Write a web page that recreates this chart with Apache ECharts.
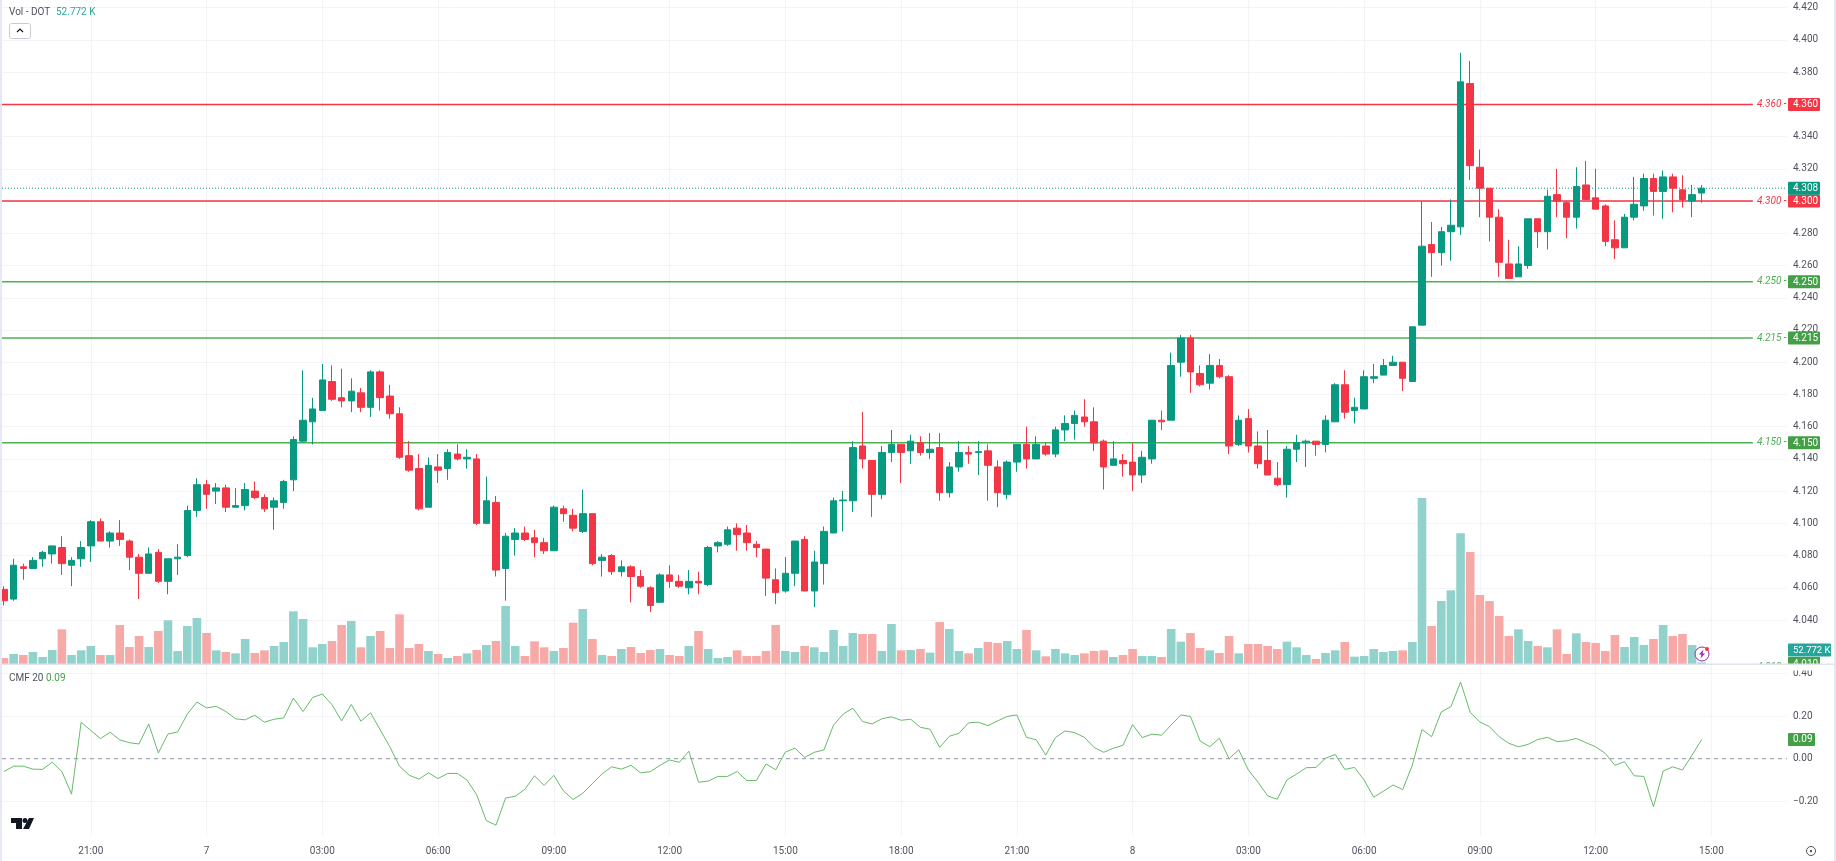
<!DOCTYPE html>
<html>
<head>
<meta charset="utf-8">
<title>DOT 15m</title>
<script src="https://cdn.jsdelivr.net/npm/echarts@6/dist/echarts.min.js"></script>
<style>
  html, body { margin: 0; padding: 0; background: #fff; }
  #chart { width: 1836px; height: 861px; }
</style>
</head>
<body>
<div id="chart"></div>
<script>
// 15 minute bars, first bar is 18:45 on the 6th
const opens = [
  4.059,4.053,4.073,4.072,4.078,4.081,4.085,4.074,4.078,4.086,
  4.101,4.089,4.094,4.089,4.079,4.069,4.082,4.064,4.078,4.080,
  4.108,4.124,4.120,4.122,4.110,4.111,4.120,4.116,4.110,4.113,
  4.127,4.151,4.163,4.170,4.188,4.178,4.176,4.181,4.172,4.194,
  4.179,4.168,4.142,4.134,4.110,4.135,4.134,4.143,4.140,4.140,
  4.100,4.113,4.072,4.090,4.094,4.091,4.088,4.083,4.109,4.105,
  4.095,4.106,4.077,4.080,4.070,4.073,4.067,4.060,4.051,4.068,
  4.064,4.060,4.064,4.062,4.086,4.087,4.097,4.094,4.087,4.084,
  4.065,4.058,4.069,4.090,4.058,4.075,4.094,4.114,4.114,4.148,
  4.139,4.118,4.144,4.149,4.145,4.150,4.144,4.147,4.119,4.135,
  4.144,4.144,4.145,4.135,4.118,4.138,4.149,4.140,4.148,4.143,
  4.158,4.162,4.166,4.163,4.151,4.136,4.139,4.138,4.130,4.140,
  4.164,4.164,4.200,4.215,4.193,4.187,4.198,4.191,4.149,4.165,
  4.148,4.139,4.128,4.124,4.146,4.150,4.151,4.149,4.163,4.186,
  4.170,4.171,4.190,4.192,4.198,4.200,4.188,4.223,4.273,4.268,
  4.281,4.284,4.373,4.321,4.308,4.290,4.261,4.253,4.260,4.289,
  4.281,4.304,4.299,4.290,4.310,4.302,4.297,4.276,4.271,4.290,
  4.297,4.314,4.306,4.315,4.307,4.300,4.305
];
const closes = [
  4.052,4.074,4.072,4.077,4.082,4.086,4.075,4.077,4.085,4.101,
  4.089,4.094,4.090,4.079,4.069,4.081,4.064,4.078,4.079,4.108,
  4.124,4.118,4.122,4.110,4.111,4.121,4.116,4.109,4.114,4.126,
  4.152,4.164,4.171,4.189,4.177,4.176,4.182,4.172,4.194,4.178,
  4.168,4.141,4.133,4.109,4.136,4.133,4.144,4.140,4.141,4.100,
  4.114,4.071,4.092,4.094,4.090,4.088,4.083,4.110,4.106,4.097,
  4.106,4.075,4.079,4.070,4.073,4.067,4.061,4.049,4.068,4.064,
  4.061,4.064,4.063,4.085,4.088,4.096,4.093,4.088,4.085,4.066,
  4.057,4.069,4.089,4.058,4.076,4.095,4.114,4.1145,4.147,4.140,
  4.118,4.144,4.149,4.144,4.151,4.144,4.146,4.119,4.135,4.144,
  4.143,4.1445,4.136,4.119,4.138,4.149,4.140,4.149,4.143,4.158,
  4.162,4.167,4.163,4.150,4.135,4.140,4.137,4.130,4.141,4.164,
  4.163,4.198,4.215,4.194,4.186,4.198,4.191,4.148,4.164,4.148,
  4.137,4.130,4.124,4.146,4.150,4.151,4.149,4.164,4.186,4.169,
  4.172,4.191,4.191,4.198,4.200,4.190,4.222,4.272,4.268,4.281,
  4.285,4.374,4.322,4.308,4.290,4.262,4.252,4.261,4.289,4.281,
  4.303,4.300,4.290,4.309,4.301,4.295,4.275,4.271,4.290,4.298,
  4.314,4.306,4.315,4.308,4.301,4.304,4.308
];
const lows = [
  4.049,4.052,4.065,4.072,4.073,4.075,4.068,4.061,4.073,4.076,
  4.089,4.085,4.086,4.071,4.053,4.069,4.063,4.056,4.068,4.079,
  4.104,4.109,4.112,4.107,4.110,4.108,4.115,4.107,4.096,4.109,
  4.120,4.150,4.149,4.170,4.176,4.172,4.169,4.169,4.166,4.170,
  4.165,4.140,4.132,4.108,4.110,4.125,4.127,4.139,4.134,4.099,
  4.100,4.067,4.052,4.080,4.089,4.079,4.081,4.083,4.101,4.095,
  4.094,4.074,4.067,4.068,4.067,4.051,4.060,4.045,4.051,4.060,
  4.060,4.056,4.056,4.061,4.082,4.086,4.083,4.083,4.079,4.055,
  4.050,4.057,4.061,4.058,4.048,4.062,4.094,4.095,4.107,4.134,
  4.104,4.115,4.138,4.125,4.137,4.142,4.140,4.114,4.116,4.132,
  4.137,4.130,4.114,4.110,4.115,4.132,4.134,4.140,4.142,4.141,
  4.151,4.152,4.160,4.145,4.121,4.136,4.129,4.120,4.125,4.137,
  4.158,4.164,4.191,4.181,4.185,4.183,4.190,4.143,4.148,4.144,
  4.134,4.130,4.123,4.116,4.138,4.135,4.142,4.144,4.163,4.165,
  4.162,4.171,4.187,4.192,4.198,4.182,4.188,4.223,4.253,4.260,
  4.263,4.279,4.313,4.290,4.275,4.253,4.252,4.253,4.258,4.271,
  4.270,4.290,4.277,4.283,4.301,4.295,4.272,4.264,4.271,4.288,
  4.294,4.291,4.289,4.293,4.296,4.290,4.299
];
const highs = [
  4.061,4.078,4.075,4.079,4.083,4.086,4.092,4.079,4.089,4.102,
  4.103,4.095,4.102,4.090,4.081,4.085,4.084,4.078,4.087,4.111,
  4.128,4.127,4.125,4.124,4.122,4.125,4.126,4.118,4.116,4.127,
  4.154,4.195,4.178,4.199,4.198,4.196,4.190,4.184,4.195,4.195,
  4.186,4.172,4.151,4.143,4.141,4.143,4.146,4.149,4.146,4.143,
  4.129,4.117,4.094,4.097,4.098,4.096,4.091,4.111,4.111,4.109,
  4.121,4.106,4.081,4.081,4.077,4.074,4.071,4.061,4.069,4.074,
  4.068,4.071,4.070,4.086,4.089,4.098,4.100,4.099,4.089,4.084,
  4.072,4.079,4.089,4.092,4.083,4.098,4.116,4.120,4.151,4.169,
  4.139,4.148,4.158,4.149,4.155,4.154,4.156,4.156,4.138,4.151,
  4.148,4.151,4.149,4.139,4.139,4.149,4.160,4.154,4.150,4.160,
  4.167,4.170,4.177,4.172,4.152,4.151,4.143,4.150,4.145,4.164,
  4.170,4.206,4.217,4.217,4.198,4.205,4.202,4.192,4.167,4.171,
  4.157,4.158,4.138,4.148,4.155,4.152,4.151,4.167,4.187,4.195,
  4.178,4.195,4.199,4.202,4.204,4.200,4.222,4.300,4.287,4.284,
  4.301,4.392,4.387,4.332,4.308,4.295,4.276,4.272,4.289,4.289,
  4.307,4.320,4.300,4.321,4.325,4.320,4.298,4.288,4.292,4.315,
  4.317,4.317,4.319,4.317,4.316,4.310,4.310
];
// volume in thousands
const volumes = [
  210,350,315,420,245,490,1214,315,478,630,
  315,315,1365,595,980,595,1155,1529,455,1330,
  1610,1085,478,420,373,875,385,478,630,770,
  1844,1575,584,700,805,1365,1505,584,980,1155,
  560,1739,560,700,455,350,210,280,373,490,
  665,805,2031,630,280,794,584,455,560,1447,
  1926,875,315,280,525,595,385,490,525,315,
  280,630,1155,525,210,245,478,280,280,455,
  1365,455,420,630,584,420,1190,630,1085,1050,
  1050,455,1400,478,490,525,397,1470,1225,455,
  373,560,770,735,805,525,1190,478,268,525,
  373,315,373,455,478,245,315,525,280,280,
  245,1225,782,1085,560,478,385,980,373,700,
  700,630,525,782,584,315,175,385,478,770,
  257,280,525,420,455,478,770,5812,1330,2206,
  2579,4575,3921,2416,2206,1680,980,1214,805,630,
  584,1214,350,1074,770,735,455,1015,595,945,
  665,875,1365,980,1050,665,52.772
];
const cmfValues = [
  -0.060,-0.035,-0.035,-0.049,-0.050,-0.016,-0.060,-0.166,0.171,0.132,
  0.094,0.124,0.088,0.075,0.069,0.163,0.027,0.116,0.125,0.209,
  0.265,0.238,0.245,0.221,0.187,0.182,0.204,0.171,0.185,0.191,
  0.284,0.221,0.287,0.303,0.253,0.177,0.254,0.176,0.215,0.135,
  0.056,-0.035,-0.077,-0.096,-0.066,-0.093,-0.069,-0.069,-0.100,-0.169,
  -0.290,-0.311,-0.184,-0.176,-0.143,-0.080,-0.125,-0.078,-0.151,-0.191,
  -0.162,-0.116,-0.071,-0.038,-0.049,-0.031,-0.066,-0.061,-0.031,-0.006,
  -0.017,0.035,-0.110,-0.105,-0.083,-0.083,-0.060,-0.102,-0.102,-0.024,
  -0.052,0.031,0.049,0.006,0.030,0.041,0.158,0.209,0.237,0.174,
  0.163,0.187,0.196,0.180,0.185,0.147,0.138,0.053,0.105,0.119,
  0.168,0.171,0.155,0.177,0.198,0.205,0.100,0.089,0.017,0.099,
  0.130,0.122,0.100,0.053,0.030,0.049,0.063,0.160,0.099,0.115,
  0.110,0.158,0.205,0.198,0.083,0.056,0.096,0.000,0.042,-0.053,
  -0.110,-0.174,-0.190,-0.099,-0.072,-0.042,-0.041,0.002,0.020,-0.050,
  -0.041,-0.100,-0.180,-0.152,-0.123,-0.145,-0.030,0.137,0.103,0.219,
  0.244,0.359,0.217,0.172,0.150,0.103,0.072,0.056,0.067,0.090,
  0.100,0.080,0.084,0.095,0.075,0.056,0.025,-0.031,-0.014,-0.080,
  -0.083,-0.225,-0.058,-0.038,-0.053,0.017,0.090
];

const priceTicks = [4.42,4.40,4.38,4.36,4.34,4.32,4.30,4.28,4.26,4.24,4.22,4.20,4.18,4.16,4.14,4.12,4.10,4.08,4.06,4.04];
const cmfTicks = [0.4, 0.2, 0, -0.2];
const timeTickLabels = ["21:00","7","03:00","06:00","09:00","12:00","15:00","18:00","21:00","8","03:00","06:00","09:00","12:00","15:00"];
const redLevels = [4.36, 4.30];
const greenLevels = [4.25, 4.215, 4.15];
const lastPrice = 4.308;
const lastCmf = 0.09;

const GREEN = "#089981";
const RED = "#F23645";
const LEVEL_GREEN = "#4CAF50";
const GRID = "#f3f4f8";
const TEXT = "#50535e";
const FONT = "Roboto";

// x is the bar number. 9.646px per bar, first bar centre at x = 4, pane is x 2..1787
const X_MIN = -0.2073;
const X_MAX = 184.84;
const LEVEL_END = 181.3;

const candleData = opens.map((o, i) => [i, o, closes[i], lows[i], highs[i]]);
const volumeData = volumes.map((v, i) => ({
  value: [i, v],
  itemStyle: { color: closes[i] >= opens[i] ? "#92d2cc" : "#f7a9a7" },
}));
const cmfData = cmfValues.map((v, i) => [i, v]);

// tick every 12 bars, starting at 21:00 which is bar 9
const timeTicks = timeTickLabels.map((_, i) => 9 + i * 12);
const timeLabelFor = (value) => timeTickLabels[timeTicks.indexOf(value)] || "";

function levelSeries(level, color) {
  return {
    type: "line",
    xAxisIndex: 0,
    yAxisIndex: 0,
    data: [[X_MIN, level], [LEVEL_END, level]],
    showSymbol: false,
    silent: true,
    z: 1,
    lineStyle: { color: color, width: 1.5 },
  };
}

const chart = echarts.init(document.getElementById("chart"));

chart.setOption({
  animation: false,
  backgroundColor: "#fff",
  textStyle: { fontFamily: FONT },
  grid: [
    { left: 2, top: 0, width: 1785, height: 664 },
    { left: 2, top: 665, width: 1785, height: 171 },
  ],
  xAxis: [
    {
      type: "value",
      gridIndex: 0,
      min: X_MIN,
      max: X_MAX,
      axisLine: { show: false },
      axisTick: { show: false, customValues: timeTicks },
      axisLabel: { show: false },
      splitLine: { show: true, lineStyle: { color: GRID, width: 1 } },
    },
    {
      type: "value",
      gridIndex: 1,
      min: X_MIN,
      max: X_MAX,
      axisLine: { show: false },
      axisTick: { show: false, customValues: timeTicks },
      axisLabel: {
        customValues: timeTicks,
        formatter: timeLabelFor,
        color: TEXT,
        fontSize: 10,
        fontFamily: FONT,
        margin: 10,
      },
      splitLine: { show: true, lineStyle: { color: GRID, width: 1 } },
    },
  ],
  yAxis: [
    {
      type: "value",
      gridIndex: 0,
      position: "right",
      min: 4.0127,
      max: 4.4248,
      axisLine: { show: false },
      axisTick: { show: false, customValues: priceTicks },
      axisLabel: {
        customValues: priceTicks,
        formatter: (v) => v.toFixed(3),
        color: TEXT,
        fontSize: 10,
        fontFamily: FONT,
        align: "left",
        margin: 6,
      },
      splitLine: { show: true, lineStyle: { color: GRID, width: 1 } },
    },
    {
      type: "value",
      gridIndex: 1,
      position: "right",
      min: -0.362,
      max: 0.4389,
      axisLine: { show: false },
      axisTick: { show: false, customValues: cmfTicks },
      axisLabel: {
        customValues: cmfTicks,
        formatter: (v) => v.toFixed(2).replace("-", "\u2212"),
        color: TEXT,
        fontSize: 10,
        fontFamily: FONT,
        align: "left",
        margin: 6,
      },
      splitLine: { show: true, lineStyle: { color: GRID, width: 1 } },
    },
    // volume shares the price pane, one pixel is about 35K
    { type: "value", gridIndex: 0, min: 0, max: 23240, show: false, splitLine: { show: false } },
  ],
  series: [
    {
      type: "bar",
      xAxisIndex: 0,
      yAxisIndex: 2,
      data: volumeData,
      barWidth: 8.6,
      silent: true,
      z: 0,
    },
    ...redLevels.map((l) => levelSeries(l, RED)),
    ...greenLevels.map((l) => levelSeries(l, LEVEL_GREEN)),
    {
      type: "line",
      xAxisIndex: 0,
      yAxisIndex: 0,
      data: [[X_MIN, lastPrice], [X_MAX, lastPrice]],
      showSymbol: false,
      silent: true,
      z: 1,
      lineStyle: { color: GREEN, width: 1, type: [1, 2] },
    },
    {
      type: "candlestick",
      xAxisIndex: 0,
      yAxisIndex: 0,
      data: candleData,
      barWidth: 7,
      silent: true,
      z: 3,
      itemStyle: {
        color: GREEN,
        color0: RED,
        borderColor: GREEN,
        borderColor0: RED,
        borderWidth: 1,
      },
    },
    {
      type: "line",
      xAxisIndex: 1,
      yAxisIndex: 1,
      data: [[X_MIN, 0], [X_MAX, 0]],
      showSymbol: false,
      silent: true,
      z: 1,
      lineStyle: { color: "#9598a1", width: 1, type: [4, 4] },
    },
    {
      type: "line",
      xAxisIndex: 1,
      yAxisIndex: 1,
      data: cmfData,
      showSymbol: false,
      silent: true,
      z: 2,
      lineStyle: { color: "#66bb6a", width: 1 },
    },
  ],
});

const graphics = [];

function text(x, y, str, color, extra) {
  graphics.push({
    type: "text",
    x: x,
    y: y,
    z: 105,
    silent: true,
    style: Object.assign(
      { text: str, fill: color, font: "10px " + FONT, textVerticalAlign: "middle" },
      extra || {}
    ),
  });
}

function rect(x, y, w, h, fill, z, extra) {
  graphics.push({
    type: "rect",
    z: z || 100,
    silent: true,
    shape: Object.assign({ x: x, y: y, width: w, height: h }, extra || {}),
    style: { fill: fill },
  });
}

function badge(y, w, color, label, font) {
  rect(1788, y - 6.5, w, 13, color, 100, { r: 1 });
  text(1793, y + 0.5, label, "#fff", font ? { font: font } : null);
}

// axis badges and the italic labels next to the level lines, placed through the y scales
redLevels.concat(greenLevels).forEach((level) => {
  const y = chart.convertToPixel({ yAxisIndex: 0 }, level);
  const color = redLevels.includes(level) ? RED : "#43a047";
  text(1757, y, level.toFixed(3) + " -", level >= 4.3 ? RED : LEVEL_GREEN, {
    font: "italic 10px " + FONT,
  });
  badge(y, 32, color, level.toFixed(3));
});
badge(chart.convertToPixel({ yAxisIndex: 0 }, lastPrice), 32, GREEN, lastPrice.toFixed(3));
badge(chart.convertToPixel({ yAxisIndex: 1 }, lastCmf), 27, "#43a047", lastCmf.toFixed(2));

// the 4.010 alert sits under the volume badge and gets cut by the pane edge
text(1757, 667, "4.010 -", LEVEL_GREEN, { font: "italic 10px " + FONT });
rect(1788, 657, 32, 12, "#43a047", 100);
text(1793, 664, "4.010", "#fff");
rect(1750, 664.5, 82, 6, "#fff", 106);
badge(650, 43, "#26a69a", "52.772 K", "9.5px " + FONT);

// page frame and pane separator
rect(0, 0, 2, 861, "#e6e9f5", 110);
rect(1834, 0, 2, 861, "#e6e9f5", 110);
rect(2, 663.5, 1832, 1.5, "#e0e3eb", 107);

// legends
text(9, 12, "Vol - DOT", TEXT);
text(56, 12, "52.772 K", "#26a69a");
text(9, 678, "CMF 20", TEXT);
text(46, 678, "0.09", "#43a047");

// collapse button
graphics.push({
  type: "rect",
  z: 105,
  silent: true,
  shape: { x: 9.5, y: 23.5, width: 21, height: 15, r: 2 },
  style: { fill: "#fff", stroke: "#c9cbd3", lineWidth: 1 },
});
graphics.push({
  type: "polyline",
  z: 106,
  silent: true,
  shape: { points: [[17, 32], [20, 29], [23, 32]] },
  style: { fill: null, stroke: "#131722", lineWidth: 1.2 },
});

// logo
graphics.push({
  type: "polygon",
  z: 105,
  silent: true,
  shape: { points: [[11, 818], [22, 818], [22, 829], [16, 829], [16, 823], [11, 823]] },
  style: { fill: "#131722" },
});
graphics.push({
  type: "circle",
  z: 105,
  silent: true,
  shape: { cx: 25, cy: 820.5, r: 2.5 },
  style: { fill: "#131722" },
});
graphics.push({
  type: "polygon",
  z: 105,
  silent: true,
  shape: { points: [[29, 818], [34, 818], [29, 829], [23, 829]] },
  style: { fill: "#131722" },
});

// settings gear
graphics.push({
  type: "circle",
  z: 105,
  silent: true,
  shape: { cx: 1811, cy: 851, r: 4.5 },
  style: { fill: "#fff", stroke: "#50535e", lineWidth: 1 },
});
graphics.push({
  type: "circle",
  z: 106,
  silent: true,
  shape: { cx: 1811, cy: 851, r: 1.2 },
  style: { fill: "#50535e" },
});

// flash marker on the last bar
graphics.push({
  type: "circle",
  z: 105,
  silent: true,
  shape: { cx: 1702, cy: 654, r: 7 },
  style: { fill: "#fff", stroke: "#9c27b0", lineWidth: 1 },
});
graphics.push({
  type: "polygon",
  z: 106,
  silent: true,
  shape: { points: [[1703.5, 649.5], [1699, 654.5], [1701.5, 654.5], [1700.5, 658.5], [1705, 653.5], [1702.5, 653.5]] },
  style: { fill: "#9c27b0" },
});
graphics.push({
  type: "circle",
  z: 107,
  silent: true,
  shape: { cx: 1707, cy: 649, r: 2 },
  style: { fill: RED },
});

chart.setOption({ graphic: { elements: graphics } });
</script>
</body>
</html>
